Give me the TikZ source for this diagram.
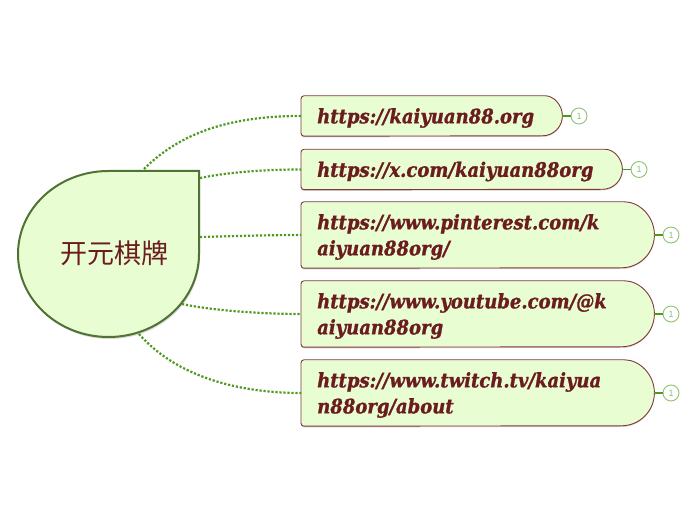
\documentclass[tikz,border=0pt]{standalone}
\usepackage{fontspec}
\usetikzlibrary{positioning,calc,backgrounds,shadows}
\newfontfamily\urlfont[FakeStretch=0.9,BoldItalicFeatures={FakeBold=1.2}]{DejaVu Serif}
\newfontfamily\cjk{Noto Sans CJK SC}
\setsansfont{Liberation Sans}
\definecolor{leaf}{HTML}{E9FDD3}
\definecolor{wine}{HTML}{6B1C1E}
\definecolor{edgewine}{HTML}{7E3A3A}
\definecolor{moss}{HTML}{4E7332}
\definecolor{link}{HTML}{4F9A1E}
\definecolor{badge}{HTML}{8FC274}
\tikzset{
  urlnode/.style={anchor=west, inner xsep=16pt, inner ysep=0pt, align=left, text=wine,
    execute at end node={\par\vspace*{-4pt}},
    font=\urlfont\bfseries\itshape\fontsize{20}{26}\selectfont},
  urlshape/.style={draw=edgewine, line width=0.9pt, fill=leaf,
    drop shadow={shadow xshift=0pt, shadow yshift=-1.2pt, opacity=0.25, fill=edgewine}},
  headshape/.style={draw=moss, line width=2pt, fill=leaf,
    drop shadow={shadow xshift=1pt, shadow yshift=-2pt, opacity=0.15, fill=black}},
  linkline/.style={draw=link, line width=2.2pt, dash pattern=on 2.2pt off 1.8pt},
  stubline/.style={draw=link, line width=1.5pt},
  countnode/.style={circle, draw=badge, fill=white, line width=0.9pt, minimum size=16pt, inner sep=0pt,
    text=badge, font=\sffamily\fontsize{9}{9}\selectfont},
}
\begin{document}
\begin{tikzpicture}[x=1pt, y=1pt]
  \useasboundingbox (0,0) rectangle (697,520);
  % central topic
  \draw[headshape] (199,349) -- (199,266) arc[start angle=0, end angle=-270, x radius=90.5pt, y radius=83pt] -- cycle;
  \node (head) [text=wine, font=\cjk\fontsize{27}{27}\selectfont] at (114,267) {开元棋牌};
  \coordinate (h1) at (144,351);
  \coordinate (h2) at (200,342);
  \coordinate (h3) at (200,283);
  \coordinate (h4) at (182,216);
  \coordinate (h5) at (139,186);
  % topics
  \node (u1) [urlnode, text width=229pt, minimum height=40pt] at (301,404) {https://kaiyuan88.org};
  \node (u2) [urlnode, text width=289pt, minimum height=40pt] at (301,350.5) {https://x.com/kaiyuan88org};
  \node (u3) [urlnode, text width=321pt, minimum height=66pt] at (301,285) {https://www.pinterest.com/k\\aiyuan88org/};
  \node (u4) [urlnode, text width=321pt, minimum height=66pt] at (301,206) {https://www.youtube.com/@k\\aiyuan88org};
  \node (u5) [urlnode, text width=321pt, minimum height=66pt] at (301,127) {https://www.twitch.tv/kaiyua\\n88org/about};
  \begin{pgfonlayer}{background}
    \foreach \n/\r in {u1/20,u2/20,u3/33,u4/33,u5/33}
      \draw[urlshape] ($(\n.north east)-(\r pt,0)$) arc[start angle=90, end angle=-90, radius=\r pt]
        [rounded corners=3pt] -- (\n.south west) -- (\n.north west) -- cycle;
  \end{pgfonlayer}
  % counters
  \node (c1) [countnode] at (579,404) {1};
  \node (c2) [countnode] at (639,350.5) {1};
  \node (c3) [countnode] at (671,285) {1};
  \node (c4) [countnode] at (671,206) {1};
  \node (c5) [countnode] at (671,127) {1};
  \foreach \n in {1,...,5}
    \draw[stubline] (u\n.east) -- (c\n.west);
  % links
  \draw[linkline] (h1) .. controls (185,392) and (240,404) .. (u1.west);
  \draw[linkline] (h2) .. controls (230,348) and (265,350.5) .. (u2.west);
  \draw[linkline] (h3) .. controls (240,284) and (270,285) .. (u3.west);
  \draw[linkline] (h4) .. controls (215,209) and (265,206) .. (u4.west);
  \draw[linkline] (h5) .. controls (175,145) and (235,127) .. (u5.west);
\end{tikzpicture}
\end{document}
